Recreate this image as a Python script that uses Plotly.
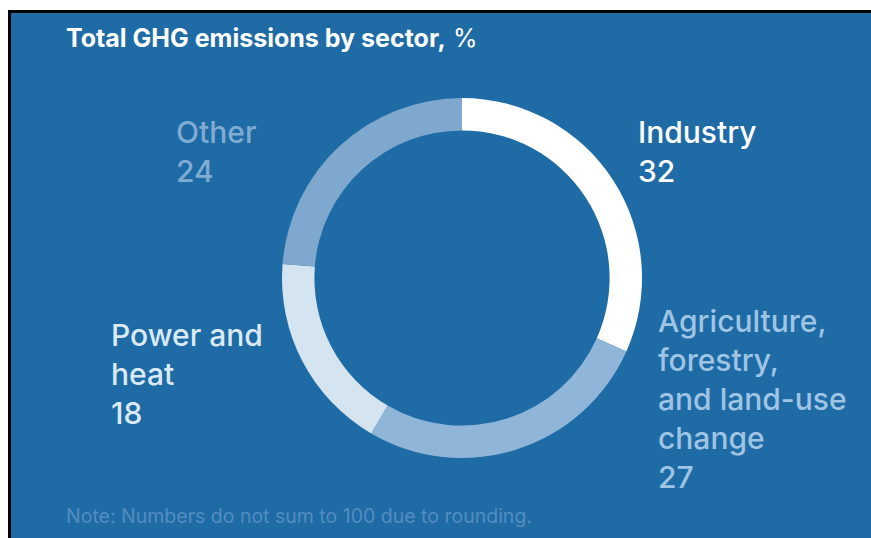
import plotly.graph_objects as go

W, H = 871, 538

# Data
sectors = ["Industry", "Agriculture, forestry, and land-use change", "Power and heat", "Other"]
values = [32, 27, 18, 24]
slice_colors = ["#ffffff", "#8fb6d8", "#d5e4f1", "#7ea8ce"]
label_lines = [["Industry"], ["Agriculture,", "forestry,", "and land-use", "change"], ["Power and", "heat"], ["Other"]]
label_colors = ["#ffffff", "#9fc4e4", "#dbe9f5", "#80abd3"]
label_pos = [(636, 112), (656, 301), (109, 315), (174, 112)]  # pixel top-left of label blocks

BG = "#1e6ba6"

def px(x):
    return x / W

def py(y):
    return 1 - y / H

cx, cy, r = 462, 278, 180

fig = go.Figure(go.Pie(
    labels=sectors,
    values=values,
    sort=False,
    direction="clockwise",
    rotation=0,
    hole=0.82,
    marker=dict(colors=slice_colors, line=dict(width=0)),
    textinfo="none",
    hoverinfo="skip",
    showlegend=False,
    domain=dict(x=[px(cx - r), px(cx + r)], y=[py(cy + r), py(cy - r)]),
))

def rect(x0, x1, y0, y1, color):
    return dict(type="rect", xref="paper", yref="paper", x0=px(x0), x1=px(x1), y0=py(y1), y1=py(y0),
                fillcolor=color, line=dict(width=0), layer="below")

shapes = [
    rect(-2, 8, -2, H + 2, "#ffffff"),
    rect(-2, W + 2, -2, 10, "#ffffff"),
    rect(8, 11, 10, H + 2, "#000000"),
    rect(8, W + 2, 10, 13, "#000000"),
]

FONT = "Inter, Roboto, sans-serif"
annotations = [
    dict(text="<b>Total GHG emissions by sector,</b> %", x=px(64), y=py(21), xref="paper", yref="paper",
         xanchor="left", yanchor="top", showarrow=False,
         font=dict(family=FONT, size=25, color="#ffffff")),
    dict(text="Note: Numbers do not sum to 100 due to rounding.", x=px(64), y=py(502), xref="paper", yref="paper",
         xanchor="left", yanchor="top", showarrow=False,
         font=dict(family=FONT, size=19.5, color="#538dc0")),
]
for lines, v, col, (lx, ly) in zip(label_lines, values, label_colors, label_pos):
    txt = "<br>".join(lines + [str(v)])
    annotations.append(dict(text=txt, x=px(lx), y=py(ly), xref="paper", yref="paper",
                            xanchor="left", yanchor="top", align="left", showarrow=False,
                            font=dict(family=FONT, size=30, color=col, weight=500)))

fig.update_layout(
    width=W, height=H,
    margin=dict(l=0, r=0, t=0, b=0),
    paper_bgcolor=BG,
    plot_bgcolor=BG,
    shapes=shapes,
    annotations=annotations,
)

fig.write_html("out.html", config={"displayModeBar": False},
               post_script="document.body.style.margin='0';document.body.style.overflow='hidden';")
